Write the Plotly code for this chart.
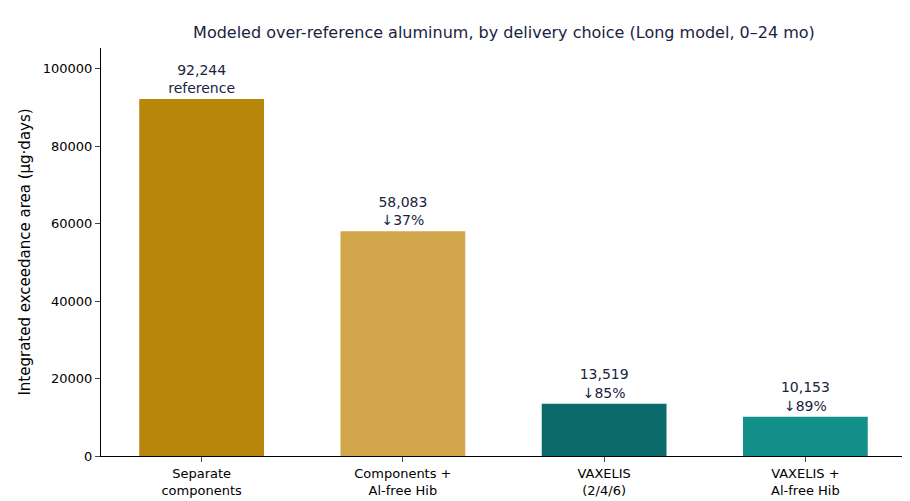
import plotly.graph_objects as go

categories = ["Separate<br>components", "Components +<br>Al-free Hib", "VAXELIS<br>(2/4/6)", "VAXELIS +<br>Al-free Hib"]
values = [92244, 58083, 13519, 10153]
notes = ["reference", "↓37%", "↓85%", "↓89%"]
colors = ["#B8860B", "#D1A64B", "#0B6B6B", "#14908A"]

labels = [f"{v:,}<br>{n}" for v, n in zip(values, notes)]

fig = go.Figure(go.Bar(
    x=categories, y=values, marker_color=colors, marker_line_width=0, width=0.62,
    text=labels, textposition="outside", cliponaxis=False,
    textfont=dict(size=14, color="#1a2340"),
))
fig.update_layout(
    width=910, height=501, plot_bgcolor="white", paper_bgcolor="white",
    margin=dict(l=93, r=12, t=40, b=53),
    font=dict(family="DejaVu Sans", size=13, color="black"),
    title=dict(text="Modeled over-reference aluminum, by delivery choice (Long model, 0–24 mo)",
               x=0.545, xanchor="center", y=0.962, font=dict(size=16, color="#1a2340")),
    showlegend=False,
)
fig.update_xaxes(range=[-0.5, 3.5], showline=True, linecolor="black", ticks="outside",
                 ticklen=5, tickfont=dict(size=13), automargin=False)
fig.update_yaxes(range=[0, 105400], dtick=20000, tickformat="d", showgrid=False, showline=True,
                 linecolor="black", ticks="outside", ticklen=5, zeroline=False,
                 title=dict(text="Integrated exceedance area (µg·days)", font=dict(size=15), standoff=8),
                 tickfont=dict(size=13), automargin=False)
fig.write_html("out.html")
